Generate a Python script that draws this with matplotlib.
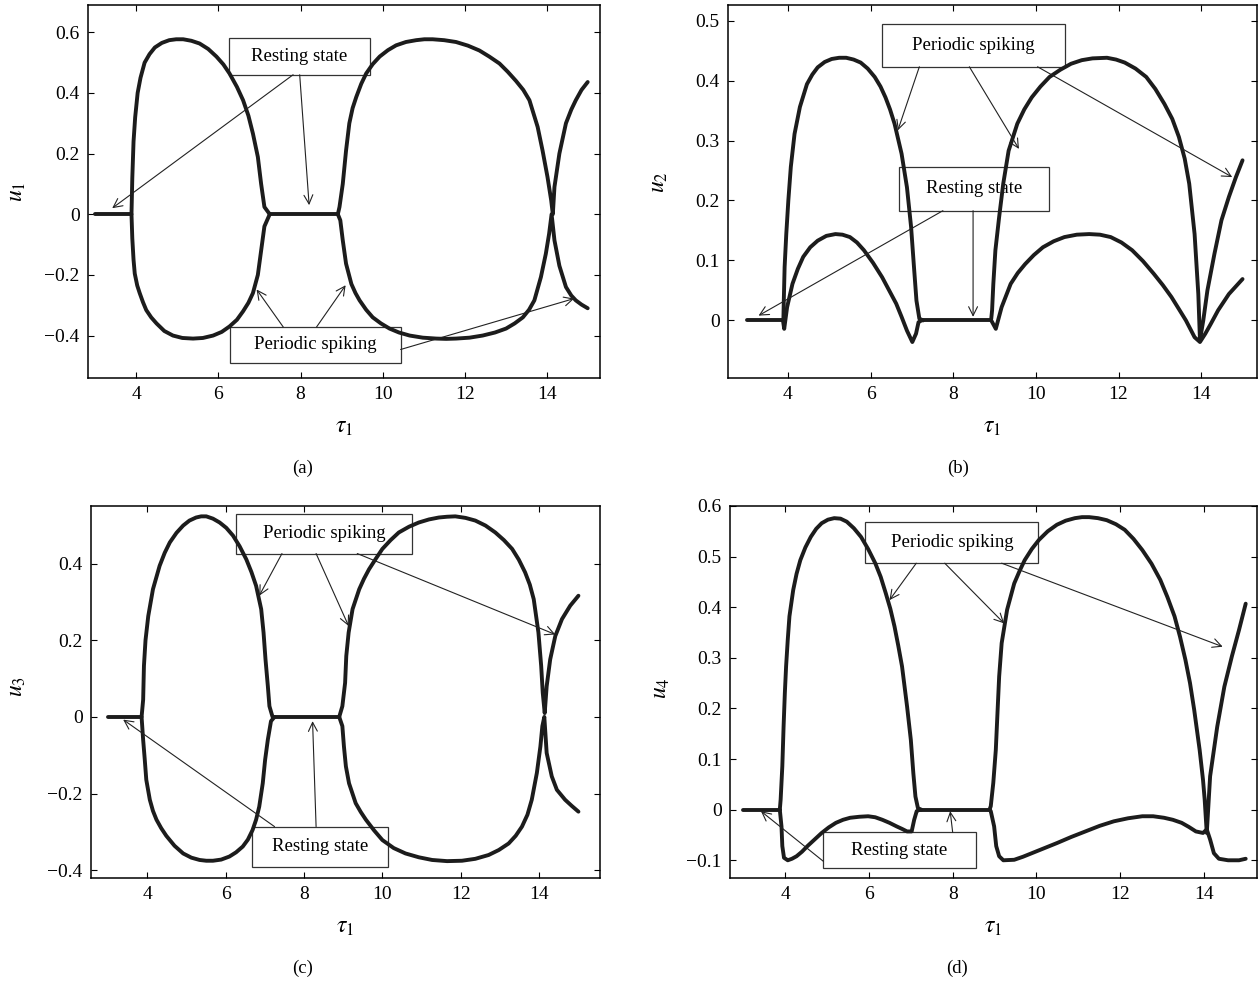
import matplotlib
matplotlib.use('Agg')
import matplotlib.pyplot as plt
from matplotlib.patches import Rectangle

plt.rcParams['font.family'] = ['Liberation Serif', 'DejaVu Serif']
plt.rcParams['mathtext.fontset'] = 'stix'
plt.rcParams['font.size'] = 13

INK = '#1c1c1c'

# ---------------- (a) u1 ----------------
a_rest1_t = [3.0, 3.87]
a_rest1_u = [0.0, 0.0]
a_rest2_t = [7.25, 8.91]
a_rest2_u = [0.0, 0.0]
a_max1_t = [3.88, 3.90, 3.93, 3.97, 4.03, 4.10, 4.20, 4.32, 4.45, 4.62, 4.80, 4.97, 5.14, 5.34, 5.54, 5.75, 5.95, 6.12, 6.27, 6.45, 6.60, 6.73, 6.84, 6.96, 7.04, 7.12, 7.25]
a_max1_u = [0.0, 0.12, 0.24, 0.32, 0.40, 0.45, 0.50, 0.528, 0.55, 0.565, 0.574, 0.577, 0.577, 0.572, 0.563, 0.545, 0.52, 0.494, 0.464, 0.42, 0.376, 0.325, 0.266, 0.189, 0.10, 0.024, 0.0]
a_min1_t = [3.88, 3.90, 3.93, 3.96, 4.02, 4.08, 4.16, 4.24, 4.36, 4.49, 4.68, 4.89, 5.12, 5.38, 5.62, 5.87, 6.08, 6.27, 6.45, 6.60, 6.73, 6.84, 6.96, 7.04, 7.12, 7.25]
a_min1_u = [0.0, -0.08, -0.15, -0.196, -0.235, -0.26, -0.29, -0.316, -0.34, -0.36, -0.385, -0.40, -0.408, -0.41, -0.408, -0.40, -0.388, -0.37, -0.348, -0.32, -0.292, -0.26, -0.20, -0.12, -0.04, 0.0]
a_max2_t = [8.91, 8.95, 9.03, 9.11, 9.19, 9.27, 9.36, 9.48, 9.60, 9.76, 9.93, 10.13, 10.33, 10.57, 10.82, 11.02, 11.22, 11.50, 11.79, 12.08, 12.36, 12.60, 12.85, 13.05, 13.25, 13.43, 13.58, 13.78, 13.90, 14.02, 14.11, 14.15, 14.19, 14.31, 14.47, 14.60, 14.71, 14.85, 15.0]
a_max2_u = [0.0, 0.024, 0.10, 0.21, 0.30, 0.35, 0.387, 0.43, 0.464, 0.495, 0.52, 0.541, 0.557, 0.568, 0.574, 0.577, 0.577, 0.574, 0.568, 0.556, 0.54, 0.52, 0.497, 0.47, 0.44, 0.41, 0.376, 0.288, 0.21, 0.123, 0.046, 0.0, 0.09, 0.20, 0.30, 0.345, 0.376, 0.41, 0.436]
a_min2_t = [8.91, 8.97, 9.03, 9.11, 9.24, 9.34, 9.44, 9.60, 9.76, 9.96, 10.17, 10.40, 10.66, 10.98, 11.31, 11.55, 11.79, 12.12, 12.44, 12.74, 13.01, 13.22, 13.42, 13.57, 13.70, 13.86, 13.98, 14.06, 14.12, 14.19, 14.31, 14.47, 14.60, 14.71, 14.85, 15.0]
a_min2_u = [0.0, -0.02, -0.086, -0.163, -0.23, -0.26, -0.284, -0.315, -0.34, -0.36, -0.377, -0.39, -0.40, -0.407, -0.41, -0.411, -0.41, -0.407, -0.40, -0.39, -0.377, -0.36, -0.34, -0.315, -0.284, -0.207, -0.13, -0.064, 0.0, -0.086, -0.17, -0.24, -0.268, -0.284, -0.298, -0.31]

# ---------------- (b) u2 ----------------
b_rest1_t = [3.0, 3.90]
b_rest1_u = [0.0, 0.0]
b_rest2_t = [7.25, 8.92]
b_rest2_u = [0.0, 0.0]
b_max1_t = [3.89, 3.90, 3.92, 3.96, 4.01, 4.07, 4.16, 4.29, 4.46, 4.59, 4.72, 4.89, 5.06, 5.24, 5.41, 5.59, 5.76, 5.93, 6.10, 6.24, 6.36, 6.47, 6.58, 6.75, 6.88, 6.98, 7.05, 7.11, 7.18, 7.27]
b_max1_u = [0.0, 0.033, 0.089, 0.144, 0.20, 0.256, 0.311, 0.356, 0.394, 0.41, 0.422, 0.431, 0.436, 0.438, 0.438, 0.435, 0.43, 0.42, 0.406, 0.39, 0.372, 0.352, 0.328, 0.278, 0.222, 0.156, 0.089, 0.033, 0.003, 0.0]
b_min1_t = [3.88, 3.91, 3.98, 4.11, 4.24, 4.37, 4.54, 4.72, 4.93, 5.15, 5.32, 5.50, 5.67, 5.84, 6.06, 6.28, 6.45, 6.62, 6.75, 6.88, 7.01, 7.10, 7.16, 7.23]
b_min1_u = [0.0, -0.014, 0.022, 0.061, 0.086, 0.106, 0.122, 0.133, 0.141, 0.144, 0.143, 0.139, 0.13, 0.117, 0.096, 0.072, 0.05, 0.028, 0.006, -0.017, -0.036, -0.022, -0.003, 0.0]
b_max2_t = [8.92, 8.94, 8.97, 9.02, 9.11, 9.21, 9.34, 9.55, 9.72, 9.90, 10.11, 10.33, 10.59, 10.85, 11.11, 11.37, 11.72, 11.94, 12.15, 12.41, 12.67, 12.89, 13.11, 13.30, 13.46, 13.60, 13.71, 13.84, 13.93, 13.97, 14.05, 14.15, 14.32, 14.49, 14.67, 14.84, 15.0]
b_max2_u = [0.003, 0.017, 0.061, 0.117, 0.172, 0.228, 0.283, 0.328, 0.352, 0.372, 0.39, 0.406, 0.418, 0.428, 0.434, 0.437, 0.438, 0.435, 0.43, 0.42, 0.406, 0.386, 0.361, 0.336, 0.306, 0.27, 0.228, 0.144, 0.044, -0.033, 0.0, 0.05, 0.111, 0.167, 0.206, 0.239, 0.267]
b_min2_t = [8.92, 9.03, 9.17, 9.39, 9.56, 9.74, 9.95, 10.17, 10.43, 10.69, 10.99, 11.29, 11.55, 11.81, 12.07, 12.33, 12.59, 12.85, 13.07, 13.28, 13.46, 13.63, 13.84, 13.97, 14.10, 14.23, 14.41, 14.67, 15.0]
b_min2_u = [0.0, -0.014, 0.022, 0.061, 0.079, 0.094, 0.109, 0.122, 0.132, 0.139, 0.143, 0.144, 0.143, 0.139, 0.13, 0.117, 0.099, 0.078, 0.059, 0.039, 0.019, 0.0, -0.028, -0.036, -0.022, -0.006, 0.017, 0.044, 0.069]

# ---------------- (c) u3 ----------------
c_rest1_t = [3.0, 3.85]
c_rest1_u = [0.0, 0.0]
c_rest2_t = [7.2, 8.9]
c_rest2_u = [0.0, 0.0]
c_max1_t = [3.86, 3.90, 3.92, 3.96, 4.03, 4.15, 4.32, 4.45, 4.58, 4.75, 4.92, 5.08, 5.25, 5.38, 5.51, 5.68, 5.85, 6.02, 6.19, 6.36, 6.53, 6.66, 6.78, 6.91, 6.97, 7.02, 7.08, 7.12, 7.20]
c_max1_u = [0.0, 0.045, 0.133, 0.20, 0.263, 0.333, 0.394, 0.428, 0.455, 0.48, 0.499, 0.512, 0.52, 0.523, 0.523, 0.517, 0.507, 0.493, 0.473, 0.445, 0.411, 0.378, 0.342, 0.281, 0.22, 0.15, 0.08, 0.028, 0.0]
c_min1_t = [3.86, 3.90, 3.94, 3.98, 4.07, 4.15, 4.24, 4.36, 4.49, 4.70, 4.92, 5.13, 5.34, 5.51, 5.68, 5.89, 6.10, 6.27, 6.44, 6.57, 6.69, 6.78, 6.86, 6.95, 7.01, 7.08, 7.16, 7.25]
c_min1_u = [0.0, -0.06, -0.11, -0.164, -0.216, -0.245, -0.268, -0.29, -0.31, -0.336, -0.356, -0.367, -0.373, -0.375, -0.375, -0.372, -0.364, -0.353, -0.338, -0.32, -0.295, -0.268, -0.234, -0.173, -0.112, -0.059, -0.011, 0.0]
c_max2_t = [8.9, 8.98, 9.05, 9.08, 9.14, 9.24, 9.41, 9.53, 9.66, 9.83, 10.0, 10.21, 10.42, 10.68, 10.93, 11.19, 11.44, 11.65, 11.86, 12.12, 12.37, 12.63, 12.88, 13.10, 13.31, 13.48, 13.64, 13.76, 13.86, 13.98, 14.05, 14.09, 14.14, 14.19, 14.28, 14.41, 14.58, 14.79, 15.0]
c_max2_u = [0.0, 0.028, 0.089, 0.159, 0.22, 0.281, 0.333, 0.36, 0.385, 0.412, 0.438, 0.461, 0.481, 0.496, 0.507, 0.515, 0.52, 0.522, 0.523, 0.519, 0.512, 0.499, 0.481, 0.461, 0.438, 0.41, 0.377, 0.345, 0.307, 0.22, 0.133, 0.063, 0.01, 0.08, 0.15, 0.211, 0.255, 0.29, 0.316]
c_min2_t = [8.9, 8.98, 9.02, 9.07, 9.15, 9.32, 9.45, 9.58, 9.79, 10.0, 10.29, 10.59, 10.93, 11.27, 11.65, 12.03, 12.37, 12.71, 12.97, 13.22, 13.40, 13.56, 13.70, 13.81, 13.94, 14.03, 14.08, 14.13, 14.19, 14.32, 14.45, 14.66, 14.83, 15.0]
c_min2_u = [0.0, -0.024, -0.077, -0.129, -0.173, -0.225, -0.248, -0.268, -0.296, -0.321, -0.342, -0.356, -0.366, -0.373, -0.376, -0.375, -0.37, -0.36, -0.347, -0.33, -0.31, -0.286, -0.255, -0.216, -0.146, -0.077, -0.024, 0.0, -0.094, -0.155, -0.19, -0.216, -0.232, -0.247]

# ---------------- (d) u4 ----------------
d_rest1_t = [3.0, 3.87]
d_rest1_u = [0.0, 0.0]
d_rest2_t = [7.2, 8.88]
d_rest2_u = [0.0, 0.0]
d_max1_t = [3.87, 3.89, 3.93, 3.96, 3.99, 4.02, 4.06, 4.10, 4.19, 4.27, 4.36, 4.48, 4.61, 4.74, 4.87, 5.02, 5.17, 5.32, 5.47, 5.64, 5.81, 5.98, 6.15, 6.28, 6.40, 6.51, 6.61, 6.70, 6.79, 6.91, 7.0, 7.06, 7.11, 7.17, 7.25]
d_max1_u = [0.0, 0.02, 0.086, 0.164, 0.23, 0.283, 0.336, 0.382, 0.434, 0.466, 0.493, 0.518, 0.539, 0.555, 0.566, 0.573, 0.576, 0.575, 0.569, 0.556, 0.539, 0.515, 0.487, 0.46, 0.428, 0.397, 0.362, 0.324, 0.283, 0.204, 0.138, 0.072, 0.026, 0.003, 0.0]
d_min1_t = [3.87, 3.91, 3.93, 3.97, 4.06, 4.16, 4.27, 4.40, 4.53, 4.70, 4.87, 5.04, 5.21, 5.38, 5.55, 5.77, 5.98, 6.15, 6.32, 6.49, 6.66, 6.79, 6.91, 7.02, 7.08, 7.14, 7.21]
d_min1_u = [0.0, -0.033, -0.072, -0.095, -0.10, -0.097, -0.092, -0.083, -0.072, -0.059, -0.046, -0.035, -0.026, -0.02, -0.016, -0.014, -0.013, -0.015, -0.02, -0.026, -0.033, -0.038, -0.043, -0.043, -0.02, -0.003, 0.0]
d_max2_t = [8.88, 8.91, 8.97, 9.03, 9.07, 9.11, 9.17, 9.30, 9.47, 9.60, 9.72, 9.89, 10.06, 10.27, 10.49, 10.70, 10.92, 11.09, 11.26, 11.47, 11.68, 11.90, 12.11, 12.32, 12.53, 12.75, 12.96, 13.13, 13.30, 13.43, 13.56, 13.67, 13.77, 13.90, 13.98, 14.02, 14.05, 14.07, 14.15, 14.32, 14.49, 14.67, 14.84, 15.0]
d_max2_u = [0.0, 0.007, 0.053, 0.118, 0.191, 0.263, 0.329, 0.395, 0.447, 0.472, 0.493, 0.515, 0.533, 0.55, 0.563, 0.571, 0.576, 0.578, 0.578, 0.576, 0.572, 0.564, 0.553, 0.535, 0.513, 0.486, 0.454, 0.42, 0.382, 0.342, 0.296, 0.25, 0.197, 0.118, 0.059, 0.02, -0.02, -0.046, 0.066, 0.164, 0.243, 0.303, 0.355, 0.407]
d_min2_t = [8.88, 8.91, 8.99, 9.04, 9.11, 9.21, 9.47, 9.68, 9.89, 10.19, 10.49, 10.83, 11.17, 11.51, 11.85, 12.19, 12.53, 12.79, 13.05, 13.26, 13.47, 13.64, 13.81, 13.98, 14.07, 14.15, 14.24, 14.36, 14.58, 14.84, 15.0]
d_min2_u = [0.0, -0.003, -0.033, -0.072, -0.092, -0.10, -0.099, -0.093, -0.086, -0.076, -0.066, -0.054, -0.043, -0.032, -0.023, -0.017, -0.013, -0.013, -0.016, -0.02, -0.026, -0.034, -0.043, -0.046, -0.039, -0.059, -0.086, -0.097, -0.10, -0.10, -0.097]

# annotation text, boxes (t0, t1, u0, u1) and arrows (tail, head), in data units
a_boxes = [('Resting state', (6.25, 9.69, 0.46, 0.58)),
           ('Periodic spiking', (6.28, 10.44, -0.49, -0.372))]
a_arrows = [((7.82, 0.46), (3.41, 0.02)), ((7.98, 0.46), (8.21, 0.03)),
            ((7.58, -0.372), (6.93, -0.248)), ((8.39, -0.372), (9.10, -0.234)),
            ((10.44, -0.446), (14.67, -0.278))]
b_boxes = [('Periodic spiking', (6.28, 10.70, 0.423, 0.494)),
           ('Resting state', (6.69, 10.31, 0.183, 0.256))]
b_arrows = [((7.18, 0.423), (6.66, 0.317)), ((8.39, 0.423), (9.59, 0.286)),
            ((10.04, 0.423), (14.75, 0.239)),
            ((7.75, 0.183), (3.29, 0.008)), ((8.48, 0.183), (8.48, 0.006))]
c_boxes = [('Periodic spiking', (6.27, 10.76, 0.426, 0.529)),
           ('Resting state', (6.67, 10.15, -0.391, -0.286))]
c_arrows = [((7.44, 0.426), (6.86, 0.316)), ((8.31, 0.426), (9.14, 0.237)),
            ((9.36, 0.426), (14.41, 0.215)),
            ((7.25, -0.286), (3.39, -0.007)), ((8.31, -0.286), (8.22, -0.011))]
d_boxes = [('Periodic spiking', (5.91, 10.05, 0.487, 0.569)),
           ('Resting state', (4.91, 8.55, -0.115, -0.045))]
d_arrows = [((7.13, 0.487), (6.49, 0.414)), ((7.81, 0.487), (9.23, 0.368)),
            ((9.17, 0.487), (14.45, 0.322)),
            ((4.91, -0.102), (3.42, -0.003)), ((8.0, -0.045), (7.94, -0.003))]

x_ticks = [4, 6, 8, 10, 12, 14]
a_yticks = [-0.4, -0.2, 0, 0.2, 0.4, 0.6]
b_yticks = [0, 0.1, 0.2, 0.3, 0.4, 0.5]
c_yticks = [-0.4, -0.2, 0, 0.2, 0.4]
d_yticks = [-0.1, 0, 0.1, 0.2, 0.3, 0.4, 0.5, 0.6]


def fmt(v):
    return '0' if v == 0 else ('%g' % v).replace('-', '\u2212')


def panel(ax, branches, boxes, arrows, xlim, ylim, yticks):
    for t, u in branches:
        ax.plot(t, u, color=INK, lw=2.8, solid_capstyle='round',
                solid_joinstyle='round', zorder=3)
    for txt, (t0, t1, u0, u1) in boxes:
        ax.add_patch(Rectangle((t0, u0), t1 - t0, u1 - u0, facecolor='white',
                               edgecolor='#333333', lw=0.9, zorder=1))
        ax.text((t0 + t1) / 2, (u0 + u1) / 2, txt, ha='center', va='center',
                fontsize=13.5, zorder=2)
    for tail, head in arrows:
        ax.annotate('', xy=head, xytext=tail,
                    arrowprops=dict(arrowstyle='->', lw=0.8, color='#222222',
                                    mutation_scale=16, shrinkA=0, shrinkB=0),
                    zorder=4)
    ax.set_xlim(*xlim)
    ax.set_ylim(*ylim)
    ax.set_xticks(x_ticks)
    ax.set_xticklabels([str(v) for v in x_ticks])
    ax.set_yticks(yticks)
    ax.set_yticklabels([fmt(v) for v in yticks])
    ax.tick_params(direction='in', length=4, width=0.8, top=True, right=True,
                   labelsize=14, pad=6)
    for s in ax.spines.values():
        s.set_linewidth(1.1)


fig = plt.figure(figsize=(12.6, 9.82), dpi=100)
W, H = 1260.0, 982.0


def add_axes(l, t, r, b):
    return fig.add_axes([l / W, 1 - b / H, (r - l) / W, (b - t) / H])


ax_a = add_axes(88, 5, 600, 378)
ax_b = add_axes(728, 5, 1257, 378)
ax_c = add_axes(91, 506, 600, 878)
ax_d = add_axes(730, 506, 1257, 878)

panel(ax_a, [(a_rest1_t, a_rest1_u), (a_rest2_t, a_rest2_u), (a_max1_t, a_max1_u),
             (a_min1_t, a_min1_u), (a_max2_t, a_max2_u), (a_min2_t, a_min2_u)],
      a_boxes, a_arrows, (2.82, 15.3), (-0.54, 0.69), a_yticks)
panel(ax_b, [(b_rest1_t, b_rest1_u), (b_rest2_t, b_rest2_u), (b_max1_t, b_max1_u),
             (b_min1_t, b_min1_u), (b_max2_t, b_max2_u), (b_min2_t, b_min2_u)],
      b_boxes, b_arrows, (2.55, 15.35), (-0.096, 0.526), b_yticks)
panel(ax_c, [(c_rest1_t, c_rest1_u), (c_rest2_t, c_rest2_u), (c_max1_t, c_max1_u),
             (c_min1_t, c_min1_u), (c_max2_t, c_max2_u), (c_min2_t, c_min2_u)],
      c_boxes, c_arrows, (2.57, 15.55), (-0.42, 0.55), c_yticks)
panel(ax_d, [(d_rest1_t, d_rest1_u), (d_rest2_t, d_rest2_u), (d_max1_t, d_max1_u),
             (d_min1_t, d_min1_u), (d_max2_t, d_max2_u), (d_min2_t, d_min2_u)],
      d_boxes, d_arrows, (2.68, 15.27), (-0.135, 0.6), d_yticks)

# axis labels and sub-figure captions
for x, y, s in [(18, 192, '$u_1$'), (660, 182, '$u_2$'), (18, 687, '$u_3$'), (662, 688, '$u_4$')]:
    fig.text(x / W, 1 - y / H, s, rotation=90, ha='center', va='center', fontsize=17)
for x, y in [(344, 427), (992, 427), (345, 928), (993, 928)]:
    fig.text(x / W, 1 - y / H, r'$\tau_1$', ha='center', va='center', fontsize=17)
for x, y, s in [(303, 468, '(a)'), (958, 468, '(b)'), (303, 968, '(c)'), (957, 968, '(d)')]:
    fig.text(x / W, 1 - y / H, s, ha='center', va='center', fontsize=13.5)

fig.savefig('out.png', dpi=100)
